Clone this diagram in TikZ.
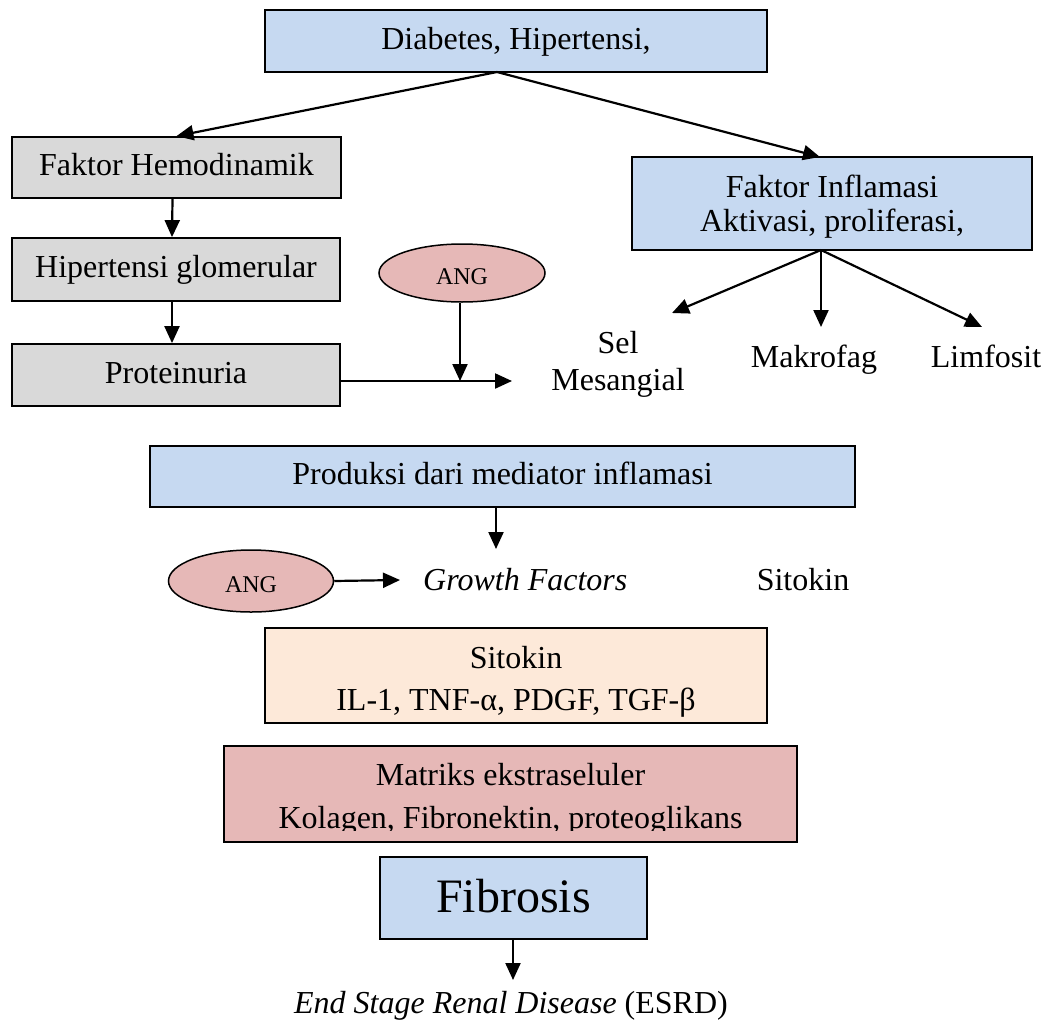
\documentclass[tikz,border=0pt]{standalone}
\usepackage{fontspec}
\setmainfont{Liberation Serif}
\usetikzlibrary{arrows.meta,shapes.geometric,calc}

\definecolor{boxblue}{HTML}{C6D9F1}
\definecolor{boxgray}{HTML}{D9D9D9}
\definecolor{boxpink}{HTML}{E6B8B7}
\definecolor{boxpeach}{HTML}{FDE9D9}

\tikzset{
  txt/.style={font=\fontsize{32}{38}\selectfont, inner sep=0pt},
  linetxt/.style={txt, anchor=base},
  box/.style={txt, draw, line width=1.8pt, text height=23pt, text depth=6.4pt},
  bluebox/.style={box, fill=boxblue},
  graybox/.style={box, fill=boxgray},
  pinkbox/.style={box, fill=boxpink},
  peachbox/.style={box, fill=boxpeach},
  angoval/.style={ellipse, draw, line width=1.5pt, fill=boxpink, inner sep=0pt,
    font=\fontsize{24}{28}\selectfont, text height=27pt, text depth=5pt},
  flow/.style={line width=2.2pt, -{Triangle[length=17pt,width=15pt]}},
}

\begin{document}
\begin{tikzpicture}[x=1pt,y=-1pt]
\useasboundingbox (0,0) rectangle (1048,1025);

% boxes
\node[bluebox, minimum width=502, minimum height=62] (top) at (516,41) {Diabetes, Hipertensi,};
\node[graybox, minimum width=329, minimum height=61] (hemo) at (176.5,167.5) {Faktor Hemodinamik};
\node[graybox, minimum width=328, minimum height=63] (glom) at (176,269.5) {Hipertensi glomerular};
\node[graybox, minimum width=328, minimum height=62] (prot) at (176,375) {Proteinuria};
\node[bluebox, text height=0pt, text depth=0pt, minimum width=400, minimum height=93] (infl) at (832,203.5) {};
\node[linetxt] (inflA) at (832,197) {Faktor Inflamasi};
\node[linetxt] (inflB) at (832,231) {Aktivasi, proliferasi,};
\node[angoval, minimum width=166, minimum height=58] (ang1) at (462,273) {ANG};

\node[bluebox, minimum width=705, minimum height=61] (prod) at (502.5,476.5) {Produksi dari mediator inflamasi};
\node[angoval, minimum width=165, minimum height=62] (ang2) at (251,581) {ANG};
\node[linetxt, anchor=base west] (growth) at (423,590) {\itshape Growth Factors};
\node[linetxt] (sitlabel) at (803,590) {Sitokin};

\node[peachbox, text height=0pt, text depth=0pt, minimum width=502, minimum height=95] (sito) at (516,675.5) {};
\node[linetxt] (sitoA) at (516,668) {Sitokin};
\node[linetxt] (sitoB) at (516,710) {IL-1, TNF-α, PDGF, TGF-β};

\node[pinkbox, text height=0pt, text depth=0pt, minimum width=573, minimum height=96] (matr) at (510.5,794) {};
\node[linetxt] (matrA) at (510.5,785) {Matriks ekstraseluler};
\begin{scope}
  % the second line is cut just under its baseline
  \clip (230,795) rectangle (792,830.5);
  \node[linetxt] (matrB) at (510.5,828) {Kolagen, Fibronektin, proteoglikans};
\end{scope}

\node[bluebox, font=\fontsize{48}{56}\selectfont, text height=39.5pt, text depth=9.6pt,
      minimum width=267, minimum height=82] (fib) at (513.5,898) {Fibrosis};
\node[linetxt] (esrd) at (511,1013) {\textit{End Stage Renal Disease} (ESRD)};

% free labels under the inflammation box
\node[linetxt] (sel) at (618,353) {Sel};
\node[linetxt] (mes) at (618,390) {Mesangial};
\node[linetxt] (mak) at (814,367) {Makrofag};
\node[linetxt] (lim) at (986,367) {Limfosit};

% connector end points
\coordinate (tapTop) at (497,72);
\coordinate (inflIn) at (820,157);
\coordinate (inflOut) at (821,250);
\coordinate (selTip) at (672,313);
\coordinate (makTip) at (821,327);
\coordinate (limTip) at (982,327);
\coordinate (jn) at (460,381);
\coordinate (protTip) at (512,381);
\coordinate (gfTip) at (496,549);
\coordinate (angTip) at (400,580);
\coordinate (esrdTip) at (513,980);

% connectors
\draw[flow] (tapTop) -- (hemo.north);
\draw[flow] (tapTop) -- (inflIn);
\draw[flow] ([xshift=-4pt]hemo.south) -- ([xshift=-4pt]glom.north);
\draw[flow] ([xshift=-4pt]glom.south) -- ([xshift=-4pt]prot.north);
\draw[flow] (prot.east |- jn) -- (protTip);
\draw[flow] (ang1.south -| jn) -- (jn);
\draw[flow] (inflOut) -- (selTip);
\draw[flow] (inflOut) -- (makTip);
\draw[flow] (inflOut) -- (limTip);
\draw[flow] (prod.south -| gfTip) -- (gfTip);
\draw[flow] (ang2.east) -- (angTip);
\draw[flow] (fib.south -| esrdTip) -- (esrdTip);
\end{tikzpicture}
\end{document}
